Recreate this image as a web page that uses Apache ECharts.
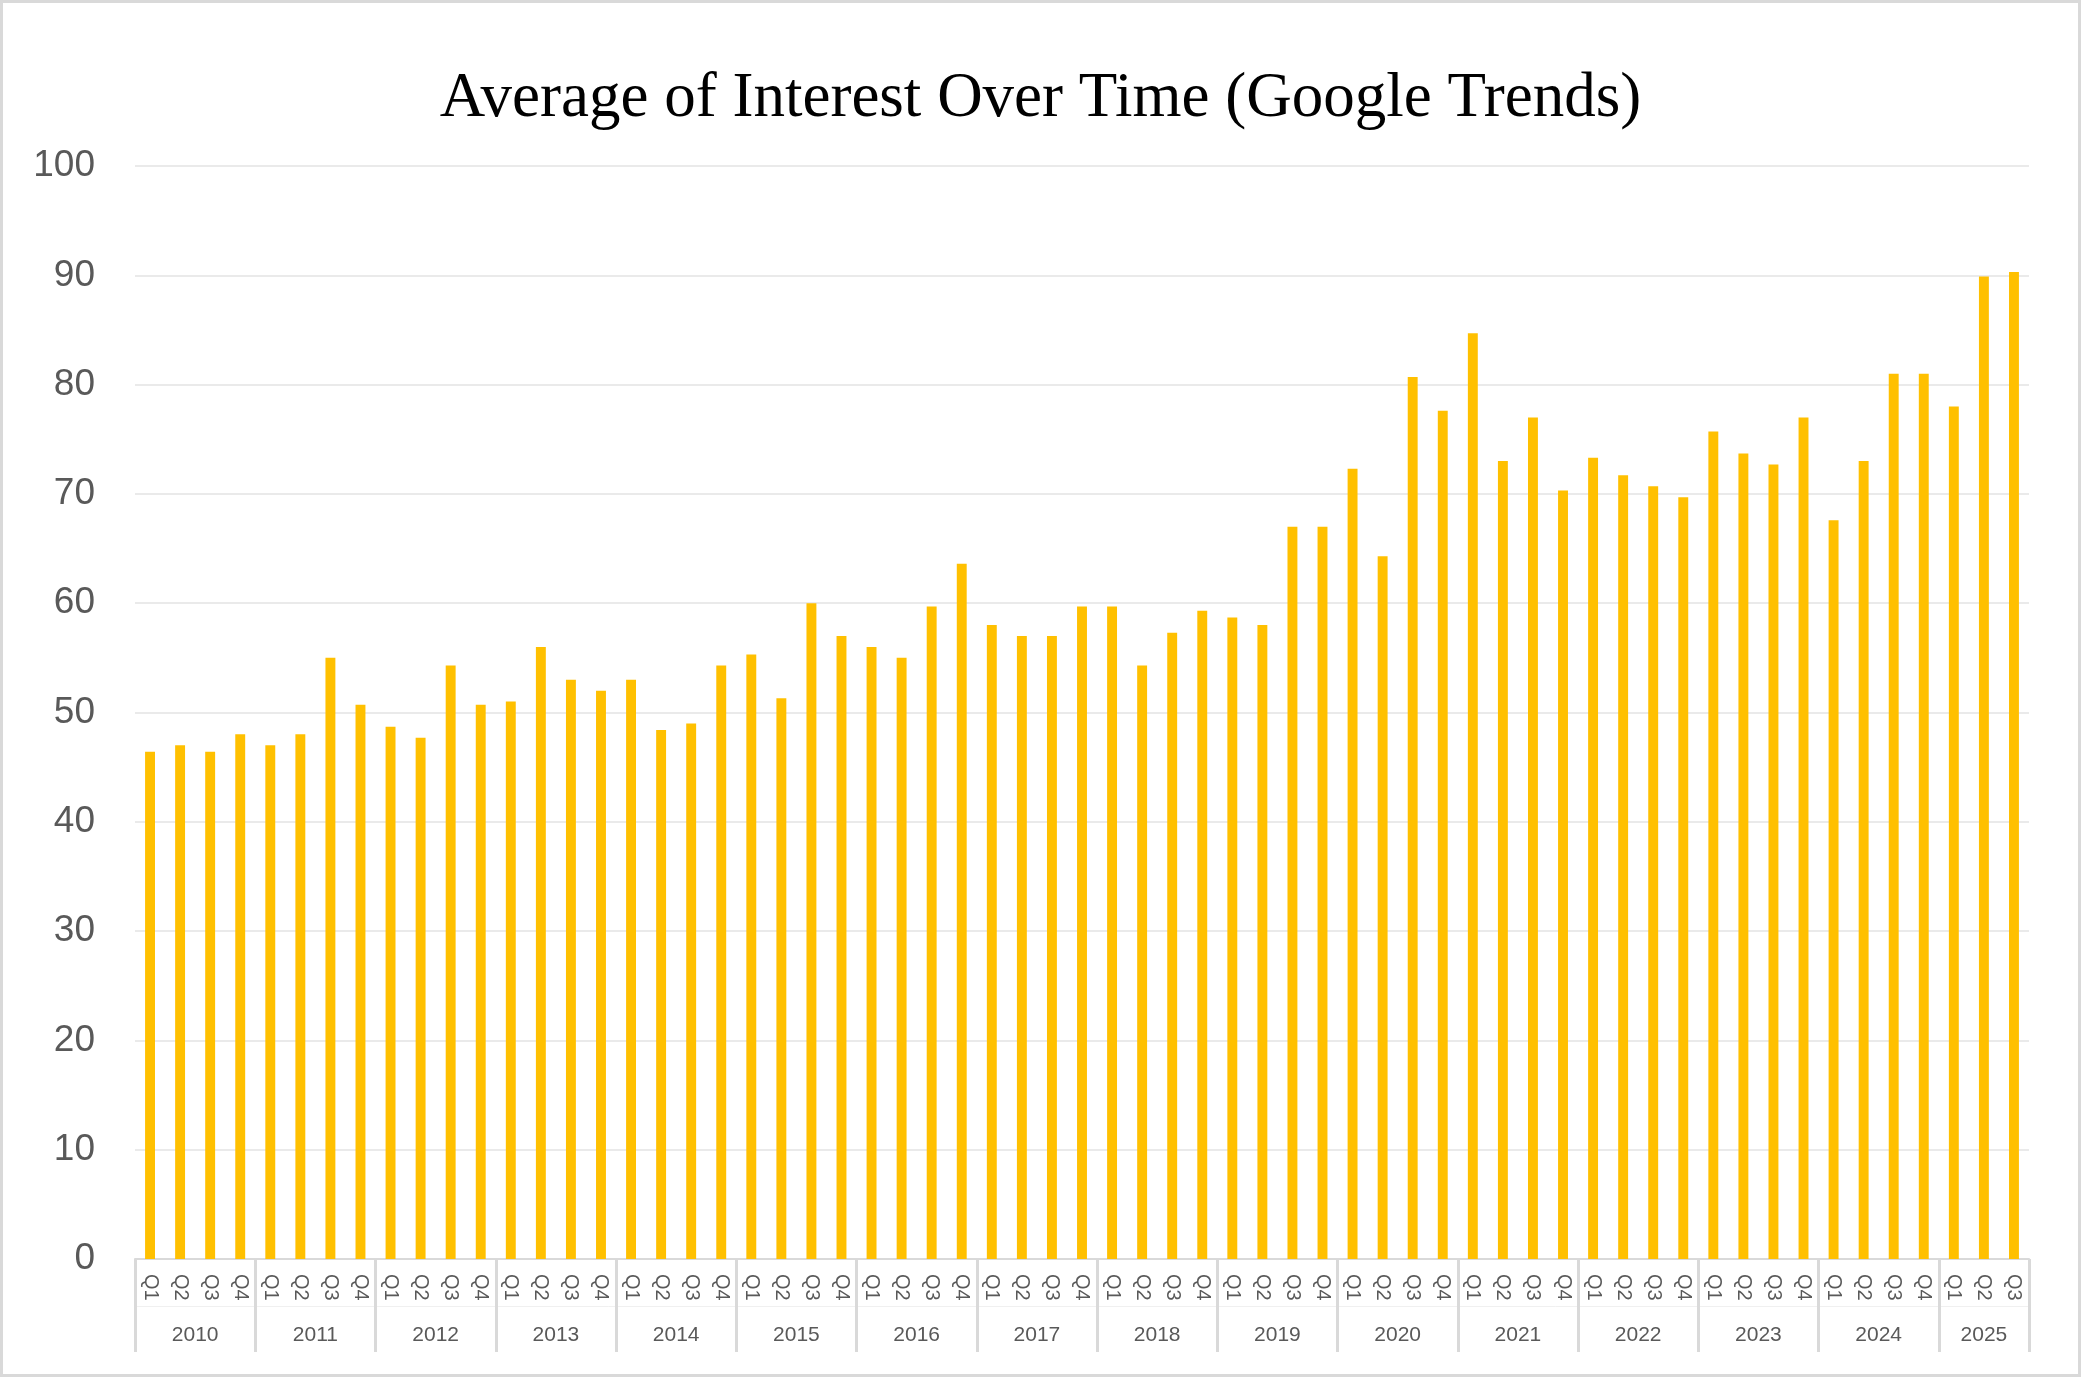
<!DOCTYPE html>
<html>
	<head>
		<meta charset="utf-8">
		<title>Average of Interest Over Time</title>
		<style type="text/css">
			html, body{
				margin: 0;
				padding: 0;
				background: #fff;
			}
			#chart{
				position: absolute;
				left: 0;
				top: 0;
				width: 2081px;
				height: 1377px;
			}
			.frame{
				position: absolute;
				left: 0;
				top: 0;
				width: 2081px;
				height: 1377px;
				box-sizing: border-box;
				border: 3px solid #d9d9d9;
				pointer-events: none;
			}
		</style>
	</head>
	<body>
		<div id="chart"></div>
		<div class="frame"></div>

		<script src="https://cdn.jsdelivr.net/npm/echarts@6/dist/echarts.min.js"></script>
		<script>
			// 数据
			var years = ['2010', '2011', '2012', '2013', '2014', '2015', '2016', '2017',
				'2018', '2019', '2020', '2021', '2022', '2023', '2024', '2025'];
			var quarters = ['Q1', 'Q2', 'Q3', 'Q4'];
			var quartersLastYear = ['Q1', 'Q2', 'Q3'];
			var interest = [
				46.4, 47.0, 46.4, 48.0,
				47.0, 48.0, 55.0, 50.7,
				48.7, 47.7, 54.3, 50.7,
				51.0, 56.0, 53.0, 52.0,
				53.0, 48.4, 49.0, 54.3,
				55.3, 51.3, 60.0, 57.0,
				56.0, 55.0, 59.7, 63.6,
				58.0, 57.0, 57.0, 59.7,
				59.7, 54.3, 57.3, 59.3,
				58.7, 58.0, 67.0, 67.0,
				72.3, 64.3, 80.7, 77.6,
				84.7, 73.0, 77.0, 70.3,
				73.3, 71.7, 70.7, 69.7,
				75.7, 73.7, 72.7, 77.0,
				67.6, 73.0, 81.0, 81.0,
				78.0, 89.9, 90.3
			];
			var yTicks = [0, 10, 20, 30, 40, 50, 60, 70, 80, 90, 100];

			// 类目：每年的季度
			var categories = [];
			years.forEach(function(y, i){
				var qs = (i == years.length - 1) ? quartersLastYear : quarters;
				qs.forEach(function(q){
					categories.push(q);
				});
			});
			var n = categories.length;

			// 年份标签放在每组中间
			function yearCenter(i){
				var start = i * 4;
				var end = Math.min(start + 4, n);
				return (start + end) / 2;
			}

			var labelColor = '#595959';
			var lineColor = '#d9d9d9';
			var sans = 'Liberation Sans, Arial, sans-serif';

			var myChart = echarts.init(document.getElementById('chart'));

			var option = {
				animation: false,
				title: {
					text: 'Average of Interest Over Time (Google Trends)',
					left: 'center',
					top: 63,
					textStyle: {
						fontFamily: 'Liberation Serif, Times New Roman, serif',
						fontWeight: 'normal',
						fontSize: 63,
						color: '#000'
					}
				},
				grid: {
					left: 135,
					right: 52,
					top: 166,
					bottom: 118
				},
				xAxis: [{
					type: 'category',
					data: categories,
					boundaryGap: true,
					axisLine: {
						lineStyle: {
							color: lineColor,
							width: 2
						}
					},
					axisTick: {
						show: false
					},
					axisLabel: {
						interval: 0,
						rotate: -90,
						margin: 15,
						color: labelColor,
						fontFamily: sans,
						fontSize: 20
					}
				}, {
					// 年份分隔线
					type: 'value',
					min: 0,
					max: n,
					interval: 4,
					position: 'bottom',
					axisLine: {
						show: false
					},
					axisTick: {
						show: true,
						length: 93,
						lineStyle: {
							color: lineColor,
							width: 3
						}
					},
					axisLabel: {
						show: false
					},
					splitLine: {
						show: false
					}
				}, {
					// 年份标签
					type: 'value',
					min: 0,
					max: n,
					interval: 0.5,
					position: 'bottom',
					offset: 47,
					axisLine: {
						show: true,
						lineStyle: {
							color: '#f0f0f0',
							width: 1
						}
					},
					axisTick: {
						show: false
					},
					splitLine: {
						show: false
					},
					axisLabel: {
						margin: 19,
						color: labelColor,
						fontFamily: sans,
						fontSize: 21,
						showMinLabel: true,
						showMaxLabel: true,
						formatter: function(v){
							var i = Math.floor(v / 4);
							if(i < years.length && v == yearCenter(i)){
								return years[i];
							}
							return '';
						}
					}
				}],
				yAxis: {
					type: 'value',
					min: yTicks[0],
					max: yTicks[yTicks.length - 1],
					interval: yTicks[1] - yTicks[0],
					axisLine: {
						show: false
					},
					axisTick: {
						show: false
					},
					axisLabel: {
						margin: 40,
						color: labelColor,
						fontFamily: sans,
						fontSize: 37
					},
					splitLine: {
						lineStyle: {
							color: '#e3e3e3',
							width: 1.5
						}
					}
				},
				series: [{
					name: 'Average of Interest',
					type: 'bar',
					xAxisIndex: 0,
					barWidth: '33%',
					itemStyle: {
						color: '#FFC000'
					},
					data: interest
				}]
			};

			myChart.setOption(option);
		</script>
	</body>
</html>
